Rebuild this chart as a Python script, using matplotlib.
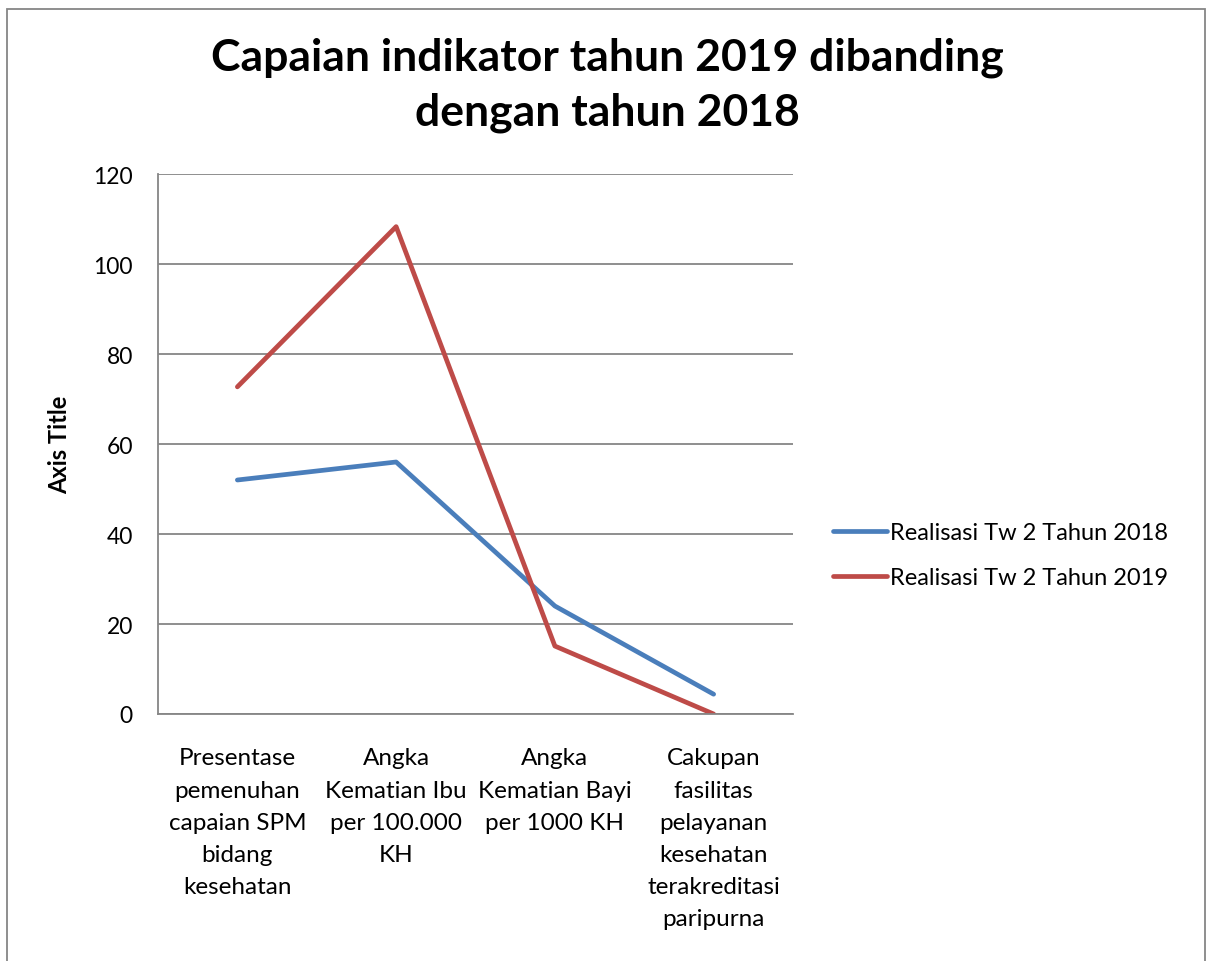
import matplotlib
matplotlib.use("Agg")
import matplotlib.pyplot as plt
from matplotlib.patches import Rectangle

categories = [
    "Presentase\npemenuhan\ncapaian SPM\nbidang\nkesehatan",
    "Angka\nKematian Ibu\nper 100.000\nKH",
    "Angka\nKematian Bayi\nper 1000 KH",
    "Cakupan\nfasilitas\npelayanan\nkesehatan\nterakreditasi\nparipurna",
]
series_2018 = [52.0, 56.0, 24.0, 4.4]
series_2019 = [72.7, 108.3, 15.1, 0.0]
labels = ["Realisasi Tw 2 Tahun 2018", "Realisasi Tw 2 Tahun 2019"]
yticks = [0, 20, 40, 60, 80, 100, 120]

plt.rcParams['font.family'] = ['Lato', 'DejaVu Sans']

W, H = 1207, 962
fig = plt.figure(figsize=(W / 100, H / 100), dpi=100)
ax = fig.add_axes([158 / W, (H - 715) / H, (793 - 158) / W, 540 / H])

x = list(range(len(categories)))
ax.plot(x, series_2018, color="#4A7EBB", lw=3.4, label=labels[0], solid_capstyle="round")
ax.plot(x, series_2019, color="#BE4B48", lw=3.4, label=labels[1], solid_capstyle="round")

ax.set_xlim(-0.5, len(categories) - 0.5)
ax.set_ylim(0, 120)
ax.set_yticks(yticks)
ax.set_yticklabels([str(v) for v in yticks], fontsize=16.5)
ax.tick_params(axis="y", length=0, pad=18)
ax.set_xticks(x)
ax.set_xticklabels(categories, fontsize=17.5, linespacing=1.66, va="top")
ax.tick_params(axis="x", length=0, pad=24)
ax.grid(axis="y", color="#868686", lw=1.3)
ax.set_axisbelow(True)
for s in ["top", "right"]:
    ax.spines[s].set_visible(False)
for s in ["left", "bottom"]:
    ax.spines[s].set_color("#868686")
    ax.spines[s].set_linewidth(1.3)

fig.text(60 / W, 1 - 445 / H, "Axis Title", rotation=90, fontsize=17,
         fontweight="bold", ha="center", va="center")
fig.text(607 / W, 1 - 85 / H, "Capaian indikator tahun 2019 dibanding\ndengan tahun 2018",
         fontsize=32, fontweight="bold", ha="center", va="center", linespacing=1.45)

leg = ax.legend(loc="center left", bbox_to_anchor=(833 / W, 1 - 556 / H),
                bbox_transform=fig.transFigure, frameon=False, fontsize=17,
                handlelength=2.3, handletextpad=0.13, labelspacing=1.0,
                borderaxespad=0, borderpad=0)

fig.patches.append(Rectangle((7 / W, -0.01), (1205 - 7) / W, 1.0, transform=fig.transFigure,
                             fill=False, edgecolor="#868686", lw=1.3))

fig.savefig("out.png", dpi=100)
